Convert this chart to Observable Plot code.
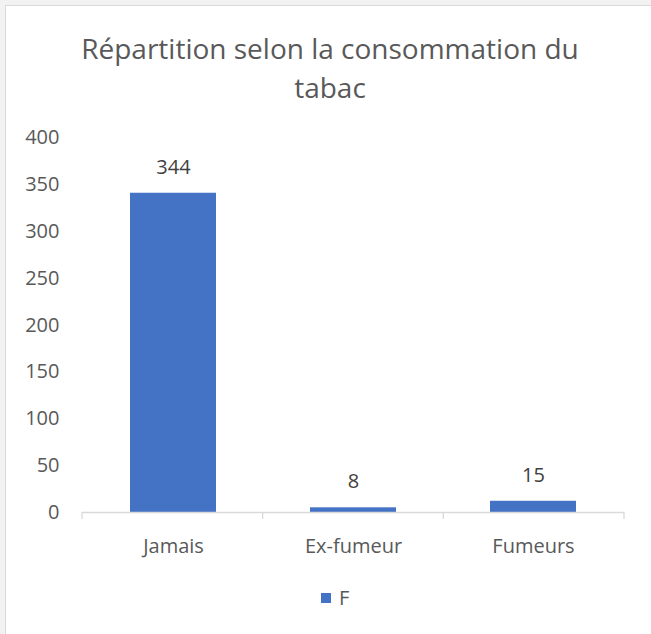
<!DOCTYPE html>
<html>
<head>
<meta charset="utf-8">
<script src="https://cdn.jsdelivr.net/npm/d3@7"></script>
<script src="https://cdn.jsdelivr.net/npm/@observablehq/plot@0.6"></script>
<style>
  html, body { margin: 0; padding: 0; background: #f2f2f2; }
  #frame { position: absolute; left: 5px; top: 5px; width: 660px; height: 640px; background: #fff; border: 1px solid #d9d9d9; box-sizing: border-box; }
  #wrap { position: relative; width: 651px; height: 634px; overflow: hidden; font-family: "Open Sans", sans-serif; color: #595959; font-variant-ligatures: none; }
  #title { position: absolute; left: 30px; width: 600px; top: 29px; text-align: center; font-size: 28px; line-height: 39px; color: #595959; }
  #chart { position: absolute; left: 0; top: 110px; }
  #legend { position: absolute; left: 321px; top: 584px; font-size: 20px; display: flex; align-items: center; gap: 8px; }
  #legend .sw { width: 10px; height: 10px; background: #4472C4; display: inline-block; }
</style>
</head>
<body>
<div id="wrap">
  <div id="frame"></div>
  <div id="title">Répartition selon la consommation du<br>tabac</div>
  <div id="chart"></div>
  <div id="legend"><span class="sw"></span><span id="legtext"></span></div>
</div>
<script>
const categories = ["Jamais", "Ex-fumeur", "Fumeurs"];
const barValues = [341, 5, 12];
const labelTexts = ["344", "8", "15"];
const yTicks = [0, 50, 100, 150, 200, 250, 300, 350, 400];
const seriesName = "F";

document.getElementById("legtext").textContent = seriesName;

const data = categories.map((c, i) => ({category: c, value: barValues[i], label: labelTexts[i]}));

const xBoundaryTicks = (index, scales, values, dims) => {
  const n = categories.length;
  const x0 = dims.marginLeft, x1 = dims.width - dims.marginRight;
  const y0 = scales.y(0);
  const g = d3.create("svg:g");
  for (let i = 0; i <= n; i++) {
    const x = x0 + (x1 - x0) * i / n;
    g.append("line").attr("x1", x).attr("x2", x).attr("y1", y0).attr("y2", y0 + 7)
      .attr("stroke", "#d9d9d9").attr("stroke-width", 1.3);
  }
  return g.node();
};

const chart = Plot.plot({
  width: 651,
  height: 470,
  marginLeft: 82,
  marginRight: 27,
  marginTop: 27.5,
  marginBottom: 68,
  style: { fontFamily: "'Open Sans', sans-serif", fontSize: "20px", color: "#595959", background: "transparent" },
  x: { domain: categories, paddingInner: 0.52, paddingOuter: 0.26, label: null },
  y: { domain: [0, 400], label: null },
  marks: [
    Plot.axisY({ ticks: yTicks, tickSize: 0, tickPadding: 23, tickFormat: d => String(d), fill: "#595959", label: null }),
    Plot.axisX({ tickSize: 0, tickPadding: 26, fill: "#595959", label: null }),
    Plot.barY(data, { x: "category", y: "value", fill: "#4472C4" }),
    Plot.ruleY([0], { stroke: "#d9d9d9", strokeWidth: 1.3 }),
    xBoundaryTicks,
    Plot.text(data, { x: "category", y: "value", text: "label", lineAnchor: "middle", dy: -26, fill: "#404040", fontSize: 20 })
  ]
});
document.getElementById("chart").appendChild(chart);
</script>
</body>
</html>
